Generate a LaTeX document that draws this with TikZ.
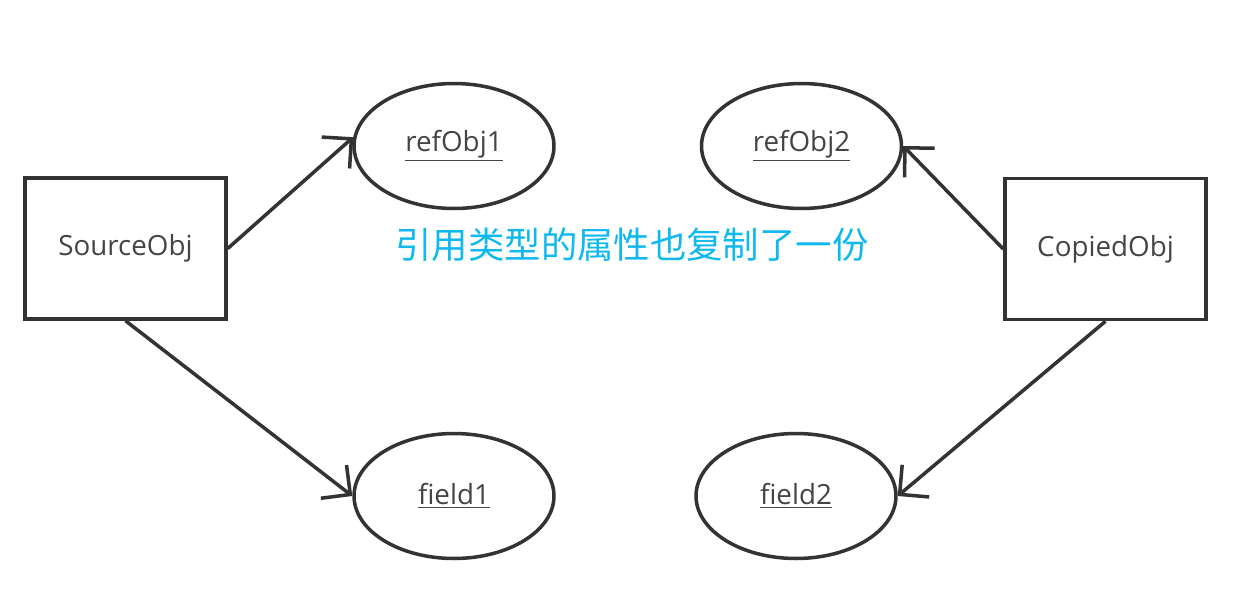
\documentclass[tikz,border=0pt]{standalone}
\usepackage{fontspec}
\setmainfont{Open Sans}
\newfontfamily\cjk{Noto Sans CJK SC}
\usetikzlibrary{shapes.geometric,arrows.meta}
\definecolor{ink}{RGB}{51,51,51}
\definecolor{txt}{RGB}{68,68,68}
\definecolor{note}{RGB}{16,184,240}
\tikzset{
  box/.style={draw=ink, line width=2pt, rectangle, minimum width=4.02cm, minimum height=2.82cm, inner sep=0pt, text=txt, font=\fontsize{15.8}{18}\selectfont},
  oval/.style={draw=ink, line width=2pt, ellipse, minimum width=4cm, minimum height=2.5cm, inner sep=0pt, text=txt, font=\fontsize{15.8}{18}\selectfont},
  conn/.style={draw=ink, line width=2pt, -{Straight Barb[length=4.2mm,width=8.4mm,line width=2pt]}}
}
\begin{document}
\begin{tikzpicture}[x=0.02cm,y=-0.02cm]
\useasboundingbox (0,0) rectangle (1248,596);
\node[box] (src) at (125.5,248.5) {SourceObj};
\node[box] (cop) at (1105.5,249) {CopiedObj};
\node[oval] (ref1) at (454,146) {\underline{refObj1}};
\node[oval] (ref2) at (801.5,146) {\underline{refObj2}};
\node[oval] (f1) at (454,496) {\underline{field1}};
\node[oval] (f2) at (796,496) {\underline{field2}};
\node[text=note, font=\cjk\fontsize{20.7}{24}\selectfont] (lbl) at (632,245) {引用类型的属性也复制了一份};
\draw[conn] (src.east) -- (ref1.175);
\draw[conn] (src.south) -- (f1.west);
\draw[conn] (cop.west) -- (ref2.east);
\draw[conn] (cop.south) -- (f2.east);
\end{tikzpicture}
\end{document}
